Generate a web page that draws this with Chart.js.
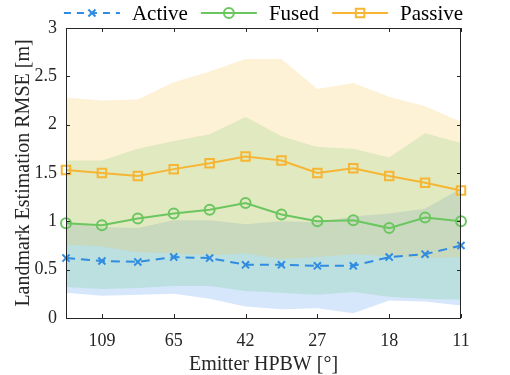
<!DOCTYPE html>
<html>
<head>
<meta charset="utf-8">
<script src="https://cdn.jsdelivr.net/npm/chart.js@4.4.1/dist/chart.umd.min.js"></script>
<style>
    html, body { margin: 0; padding: 0; background: #fff; }
    #wrap { width: 510px; height: 375px; }
</style>
</head>
<body>
<div id="wrap"><canvas id="rmseChart" width="510" height="375"></canvas></div>
<script>
// emitter HPBW categories (only every other one is labelled on the axis)
var hpbwLabels = ['', '109', '', '65', '', '42', '', '27', '', '18', '', '11'];
var yTickValues = [0, 0.5, 1, 1.5, 2, 2.5, 3];

// mean RMSE [m]
var activeRmse = [0.62, 0.59, 0.58, 0.63, 0.62, 0.55, 0.55, 0.54, 0.54, 0.63, 0.66, 0.75];
var fusedRmse = [0.98, 0.96, 1.03, 1.08, 1.12, 1.19, 1.07, 1.00, 1.01, 0.93, 1.04, 1.00];
var passiveRmse = [1.53, 1.50, 1.47, 1.54, 1.60, 1.67, 1.63, 1.50, 1.55, 1.47, 1.40, 1.32];

// shaded spread around each mean
var activeUpper = [0.99, 0.94, 0.93, 1.01, 1.01, 0.97, 1.00, 0.99, 1.05, 1.08, 1.13, 1.34];
var activeLower = [0.26, 0.23, 0.24, 0.25, 0.20, 0.12, 0.09, 0.10, 0.05, 0.18, 0.17, 0.13];
var fusedUpper = [1.63, 1.63, 1.75, 1.83, 1.90, 2.08, 1.88, 1.77, 1.75, 1.66, 1.91, 1.81];
var fusedLower = [0.32, 0.30, 0.31, 0.33, 0.33, 0.28, 0.26, 0.24, 0.27, 0.22, 0.20, 0.19];
var passiveUpper = [2.28, 2.25, 2.26, 2.44, 2.55, 2.68, 2.68, 2.37, 2.43, 2.29, 2.19, 2.03];
var passiveLower = [0.76, 0.74, 0.68, 0.67, 0.65, 0.67, 0.61, 0.63, 0.66, 0.64, 0.62, 0.63];

document.addEventListener("DOMContentLoaded", function () {
    var activeColor = 'rgb(48, 140, 224)';
    var fusedColor = 'rgb(108, 198, 96)';
    var passiveColor = 'rgb(246, 182, 52)';
    var axisColor = '#262626';
    var serif = "'Liberation Serif', 'Times New Roman', serif";

    var legendItems = [
        { text: 'Active', color: activeColor, dash: [7, 6], pointStyle: 'crossRot', radius: 5 },
        { text: 'Fused', color: fusedColor, dash: [], pointStyle: 'circle', radius: 5 },
        { text: 'Passive', color: passiveColor, dash: [], pointStyle: 'rect', radius: 6 }
    ];

    function band(data, color, order, fillTarget) {
        return {
            data: data,
            borderWidth: 0,
            borderColor: 'transparent',
            backgroundColor: color,
            pointRadius: 0,
            pointHoverRadius: 0,
            fill: fillTarget,
            order: order,
            tension: 0
        };
    }

    function meanLine(data, color, style, radius, dash) {
        return {
            data: data,
            borderColor: color,
            borderWidth: 2,
            borderDash: dash,
            backgroundColor: 'transparent',
            pointStyle: style,
            pointRadius: radius,
            pointHoverRadius: radius,
            pointBorderColor: color,
            pointBackgroundColor: 'rgba(0,0,0,0)',
            pointBorderWidth: 2,
            fill: false,
            clip: false,
            order: 0,
            tension: 0
        };
    }

    // box, inward tick marks and the legend, drawn like the original figure
    var frame = {
        id: 'frame',
        afterDraw: function (chart) {
            var ctx = chart.ctx;
            var area = chart.chartArea;
            var x = chart.scales.x;
            var y = chart.scales.y;
            var tick = 4;
            ctx.save();
            ctx.strokeStyle = axisColor;
            ctx.lineWidth = 1;
            ctx.setLineDash([]);
            ctx.strokeRect(Math.round(area.left) + 0.5, Math.round(area.top) + 0.5,
                Math.round(area.right - area.left) - 1, Math.round(area.bottom - area.top));
            ctx.beginPath();
            yTickValues.forEach(function (v) {
                var py = Math.round(y.getPixelForValue(v)) + 0.5;
                ctx.moveTo(area.left, py);
                ctx.lineTo(area.left + tick, py);
                ctx.moveTo(area.right, py);
                ctx.lineTo(area.right - tick, py);
            });
            hpbwLabels.forEach(function (lab, i) {
                if (lab === '') return;
                var px = Math.round(x.getPixelForValue(i)) + 0.5;
                ctx.moveTo(px, area.bottom);
                ctx.lineTo(px, area.bottom - tick);
                ctx.moveTo(px, area.top);
                ctx.lineTo(px, area.top + tick);
            });
            ctx.stroke();

            // legend
            var sampleLen = 56, gapText = 12, gapItem = 13, ly = 13;
            ctx.font = '21px ' + serif;
            var total = 0;
            legendItems.forEach(function (it, i) {
                it.w = ctx.measureText(it.text).width;
                total += sampleLen + gapText + it.w + (i > 0 ? gapItem : 0);
            });
            var lx = (area.left + area.right) / 2 - total / 2;
            legendItems.forEach(function (it) {
                ctx.strokeStyle = it.color;
                ctx.lineWidth = 2;
                ctx.setLineDash(it.dash);
                ctx.beginPath();
                ctx.moveTo(lx, ly);
                ctx.lineTo(lx + sampleLen, ly);
                ctx.stroke();
                ctx.setLineDash([]);
                ctx.fillStyle = 'rgba(0,0,0,0)';
                Chart.helpers.drawPoint(ctx, { pointStyle: it.pointStyle, radius: it.radius, rotation: 0, borderWidth: 2 },
                    lx + sampleLen / 2, ly);
                ctx.fillStyle = '#000';
                ctx.textAlign = 'left';
                ctx.textBaseline = 'middle';
                ctx.fillText(it.text, lx + sampleLen + gapText, ly + 1);
                lx += sampleLen + gapText + it.w + gapItem;
            });
            ctx.restore();
        }
    };

    var ctx1 = document.getElementById("rmseChart").getContext("2d");
    var chart1 = new Chart(ctx1, {
        type: 'line',
        data: {
            labels: hpbwLabels,
            datasets: [
                meanLine(activeRmse, activeColor, 'crossRot', 5, [9, 6]),
                meanLine(fusedRmse, fusedColor, 'circle', 5, []),
                meanLine(passiveRmse, passiveColor, 'rect', 6, []),
                band(passiveLower, 'transparent', 1, false),
                band(passiveUpper, 'rgba(247, 183, 51, 0.2)', 1, 3),
                band(fusedLower, 'transparent', 2, false),
                band(fusedUpper, 'rgba(79, 200, 116, 0.2)', 2, 5),
                band(activeLower, 'transparent', 3, false),
                band(activeUpper, 'rgba(50, 130, 235, 0.2)', 3, 7)
            ]
        },
        options: {
            responsive: false,
            animation: false,
            layout: {
                padding: { top: 28, right: 49, left: 0, bottom: 0 }
            },
            scales: {
                x: {
                    type: 'category',
                    offset: false,
                    grid: { display: false, drawTicks: false },
                    border: { display: false },
                    ticks: {
                        autoSkip: false,
                        maxRotation: 0,
                        padding: 12,
                        color: '#262626',
                        font: { family: serif, size: 18 }
                    },
                    title: {
                        display: true,
                        text: 'Emitter HPBW [°]',
                        color: '#262626',
                        font: { family: serif, size: 20, lineHeight: 1 },
                        padding: { top: 0, bottom: 0 }
                    },
                    afterFit: function (scale) { scale.height = 57; }
                },
                y: {
                    min: 0,
                    max: 3,
                    grid: { display: false, drawTicks: false },
                    border: { display: false },
                    ticks: {
                        stepSize: 0.5,
                        padding: 9,
                        color: '#262626',
                        font: { family: serif, size: 18 },
                        callback: function (v) { return String(Math.round(v * 10) / 10); }
                    },
                    title: {
                        display: true,
                        text: 'Landmark Estimation RMSE [m]',
                        color: '#262626',
                        font: { family: serif, size: 20 },
                        padding: { top: 12, bottom: 0 }
                    },
                    afterFit: function (scale) { scale.width = 66; }
                }
            },
            plugins: {
                legend: { display: false },
                tooltip: { enabled: false }
            }
        },
        plugins: [frame]
    });
});
</script>
</body>
</html>
